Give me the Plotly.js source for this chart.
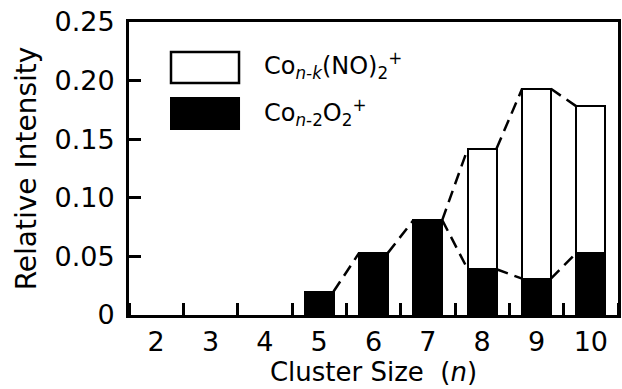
<!DOCTYPE html>
<html>
<head>
<meta charset="utf-8">
<script src="https://cdn.plot.ly/plotly-3.0.1.min.js"></script>
<style>
  html, body { margin: 0; padding: 0; background: #fff; }
  #chart { width: 622px; height: 389px; }
</style>
</head>
<body>
<div id="chart"></div>
<script>
// ---- data ----
const categories = [2, 3, 4, 5, 6, 7, 8, 9, 10];
const xTickText = ['2', '3', '4', '5', '6', '7', '8', '9', '10'];
const o2Values  = [0, 0, 0, 0.020, 0.053, 0.081, 0.039, 0.031, 0.053];   // Co(n-2)O2+
const no2Values = [0, 0, 0, 0, 0, 0, 0.103, 0.162, 0.125];              // Co(n-k)(NO)2+
const yTickVals = [0, 0.05, 0.10, 0.15, 0.20, 0.25];
const yTickText = ['0', '0.05', '0.10', '0.15', '0.20', '0.25'];
const upperStart = 5;   // first cluster joined by the upper dashed line
const lowerStart = 7;   // first cluster joined by the lower dashed line

// ---- styling ----
const FONT = 'DejaVu Sans';
const barWidth = 0.53;
const hw = barWidth / 2;

const totals = categories.map((c, i) => o2Values[i] + no2Values[i]);

function edgeLine(startN, vals) {
  const idx = categories.map((c, i) => i).filter(i => categories[i] >= startN);
  const X = [], Y = [];
  for (let k = 0; k < idx.length - 1; k++) {
    const a = idx[k], b = idx[k + 1];
    X.push(categories[a] + hw, categories[b] - hw, null);
    Y.push(vals[a], vals[b], null);
  }
  return { X, Y };
}

const up = edgeLine(upperStart, totals);
const low = edgeLine(lowerStart, o2Values);
const outline = vals => vals.map(v => (v > 0 ? 2 : 0));

const traces = [
  {
    type: 'bar', x: categories, y: o2Values, width: barWidth,
    marker: { color: '#000000', line: { color: '#000000', width: outline(o2Values) } },
    showlegend: false, hoverinfo: 'skip'
  },
  {
    type: 'bar', x: categories, y: no2Values, width: barWidth,
    marker: { color: '#ffffff', line: { color: '#000000', width: outline(no2Values) } },
    showlegend: false, hoverinfo: 'skip'
  },
  {
    type: 'scatter', mode: 'lines', x: up.X, y: up.Y,
    line: { color: '#000000', width: 2.5, dash: '12px,7px' },
    connectgaps: false, showlegend: false, hoverinfo: 'skip'
  },
  {
    type: 'scatter', mode: 'lines', x: low.X, y: low.Y,
    line: { color: '#000000', width: 2.5, dash: '12px,7px' },
    connectgaps: false, showlegend: false, hoverinfo: 'skip'
  }
];

const layout = {
  width: 622, height: 389,
  margin: { l: 129, r: 4, t: 22, b: 74 },
  paper_bgcolor: '#ffffff', plot_bgcolor: '#ffffff',
  barmode: 'stack',
  font: { family: FONT, size: 26, color: '#000000' },
  showlegend: false,
  xaxis: {
    range: [1.5, 10.5], tickmode: 'array', tickvals: categories, ticktext: xTickText,
    ticks: '', showgrid: false, zeroline: false,
    minor: { tick0: 2.5, dtick: 1, ticks: 'inside', ticklen: 12, tickwidth: 3, tickcolor: '#000', showgrid: false },
    showline: true, mirror: true, linecolor: '#000', linewidth: 3,
    tickfont: { family: FONT, size: 27, color: '#000' },
    ticklabelstandoff: 1,
    title: { text: 'Cluster Size\u00a0 (<i>n</i>)', font: { family: FONT, size: 26, color: '#000' }, standoff: 5 },
    automargin: false, fixedrange: true
  },
  yaxis: {
    range: [0, 0.25], tickmode: 'array', tickvals: yTickVals, ticktext: yTickText,
    ticks: 'inside', ticklen: 12, tickwidth: 3, tickcolor: '#000',
    showgrid: false, zeroline: false,
    showline: true, mirror: true, linecolor: '#000', linewidth: 3,
    tickfont: { family: FONT, size: 27, color: '#000' },
    ticklabelstandoff: 6,
    title: { text: 'Relative Intensity', font: { family: FONT, size: 28, color: '#000' }, standoff: 10 },
    automargin: false, fixedrange: true
  },
  shapes: [
    { type: 'rect', xref: 'paper', yref: 'paper', x0: 0.0859, x1: 0.225, y0: 0.792, y1: 0.898,
      fillcolor: '#ffffff', line: { color: '#000', width: 2.5 } },
    { type: 'rect', xref: 'paper', yref: 'paper', x0: 0.0859, x1: 0.225, y0: 0.635, y1: 0.741,
      fillcolor: '#000000', line: { color: '#000', width: 2 } }
  ],
  annotations: [
    { xref: 'paper', yref: 'paper', x: 0.272, y: 0.85, xanchor: 'left', yanchor: 'middle',
      showarrow: false, font: { family: FONT, size: 24, color: '#000' },
      text: 'Co<sub><i>n-k</i></sub>(NO)<sub>2</sub><sup>+</sup>' },
    { xref: 'paper', yref: 'paper', x: 0.272, y: 0.69, xanchor: 'left', yanchor: 'middle',
      showarrow: false, font: { family: FONT, size: 24, color: '#000' },
      text: 'Co<sub><i>n</i>-2</sub>O<sub>2</sub><sup>+</sup>' }
  ]
};

Plotly.newPlot('chart', traces, layout, { staticPlot: true, displayModeBar: false });
</script>
</body>
</html>
